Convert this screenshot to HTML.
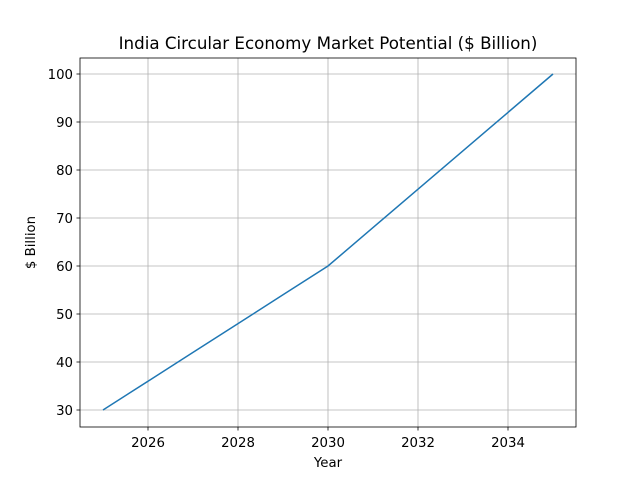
<!DOCTYPE html>
<html><head><meta charset="utf-8"><style>body{margin:0;background:#fff}svg{display:block;font-family:"DejaVu Sans","Liberation Sans",sans-serif}</style></head>
<body>
<svg id="chart" width="640" height="480"></svg>
<script>
const years = [2025,2026,2027,2028,2029,2030,2031,2032,2033,2034,2035];
const values = [30,36,42,48,54,60,68,76,84,92,100];
const xTicks = [2026,2028,2030,2032,2034];
const yTicks = [30,40,50,60,70,80,90,100];
const NS='http://www.w3.org/2000/svg';
const svg=document.getElementById('chart');
const L=80,R=576,T=58,B=427;
const xs=v=>103+(v-2025)*45;
const ys=v=>410-(v-30)*4.8;
function mk(tag,attrs,parent){const e=document.createElementNS(NS,tag);for(const k in attrs)e.setAttribute(k,attrs[k]);(parent||svg).appendChild(e);return e;}
const grid=mk('g',{});


xTicks.forEach(t=>{const x=xs(t);
 mk('line',{x1:x,x2:x,y1:T,y2:B,stroke:'#b0b0b0','stroke-width':0.8},grid);
 mk('line',{x1:x,x2:x,y1:B,y2:B+3.5,stroke:'#000','stroke-width':0.8});
 const tx=mk('text',{x:x,y:B+20,'text-anchor':'middle','font-size':13.3,fill:'#000'});tx.textContent=t;
 
 });
yTicks.forEach(t=>{const y=ys(t);
 mk('line',{x1:L,x2:R,y1:y,y2:y,stroke:'#b0b0b0','stroke-width':0.8},grid);
 mk('line',{x1:L-3.5,x2:L,y1:y,y2:y,stroke:'#000','stroke-width':0.8});
 const tx=mk('text',{x:L-7,y:y+5,'text-anchor':'end','font-size':13.3,fill:'#000'});tx.textContent=t;
 
 });
const line=mk('polyline',{points:years.map((y,i)=>xs(y)+','+ys(values[i])).join(' '),fill:'none',stroke:'#1f77b4','stroke-width':1.5});


const frame=mk('rect',{x:L,y:T,width:R-L,height:B-T,fill:'none',stroke:'#000','stroke-width':0.8});


const title=mk('text',{x:(L+R)/2,y:49,'text-anchor':'middle','font-size':16.7,fill:'#000'});title.textContent='India Circular Economy Market Potential ($ Billion)';


const xl=mk('text',{x:(L+R)/2,y:467,'text-anchor':'middle','font-size':13.3,fill:'#000'});xl.textContent='Year';


const yl=mk('text',{x:0,y:0,'text-anchor':'middle','font-size':13.3,fill:'#000',transform:'translate(35,'+((T+B)/2)+') rotate(-90)'});yl.textContent='$ Billion';


</script>
</body></html>
